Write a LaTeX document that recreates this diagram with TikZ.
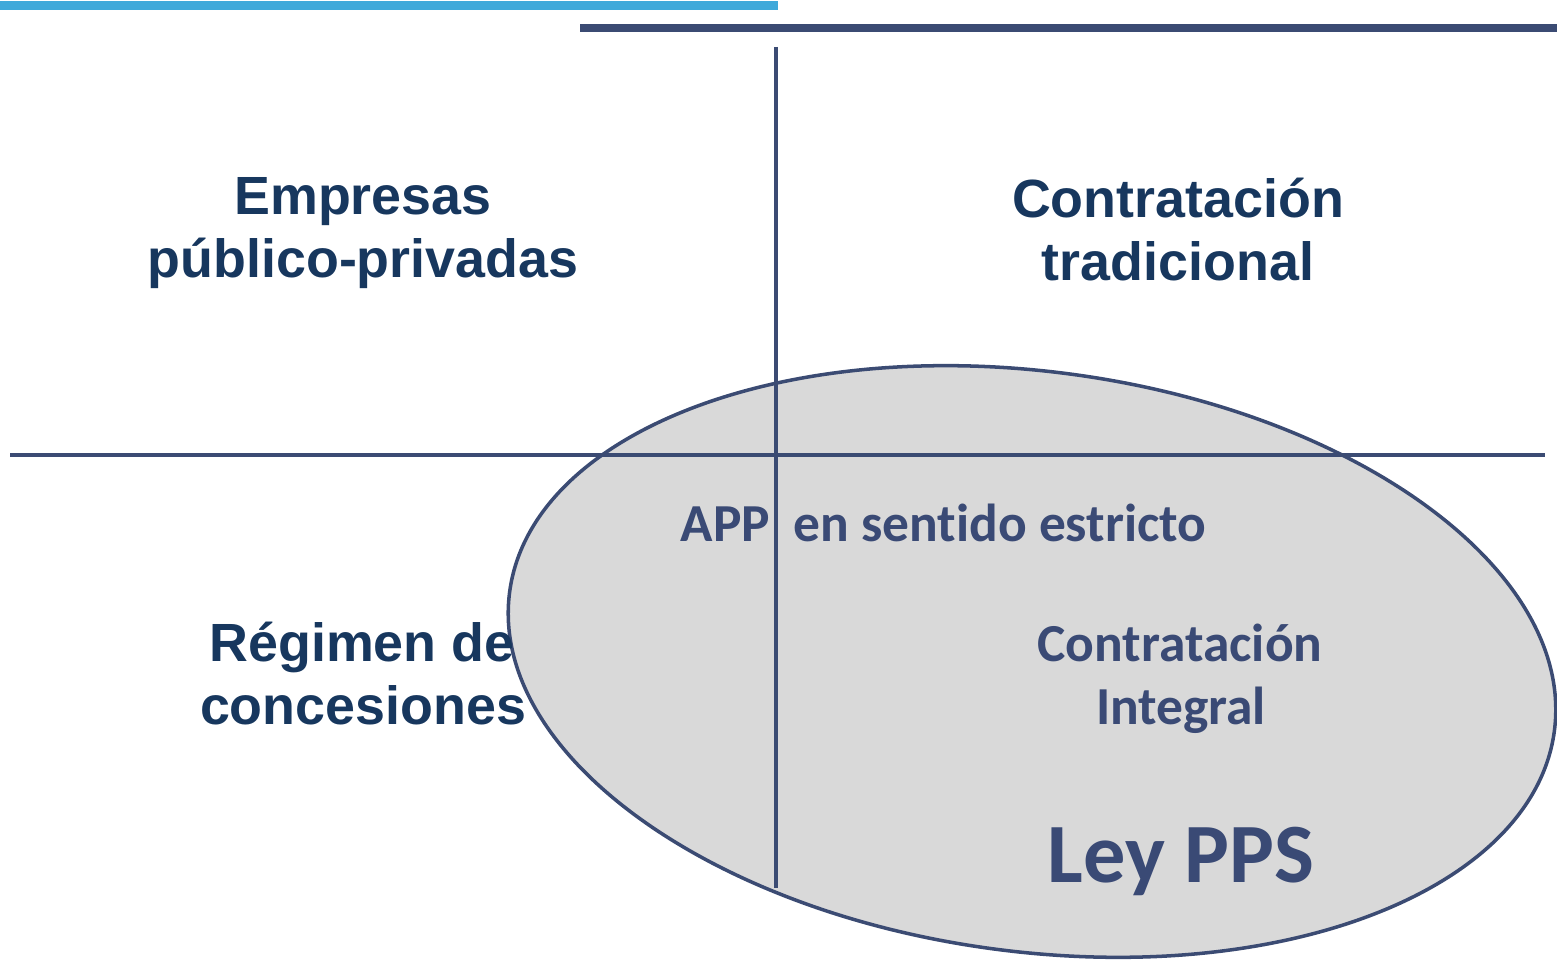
\documentclass[tikz,border=0pt]{standalone}
\usepackage{fontspec}
\setmainfont{Liberation Sans}
\newfontfamily\calib{Carlito}[Ligatures={NoCommon}]
\definecolor{navy}{HTML}{17375E}
\definecolor{slate}{HTML}{3A4A75}
\definecolor{linec}{HTML}{3B4B73}
\definecolor{skyb}{HTML}{3FA9DA}
\definecolor{ellf}{HTML}{D9D9D9}
\tikzset{
  outer/.style={inner sep=0pt, anchor=base, text=navy, font=\fontsize{15.3}{18}\selectfont\bfseries},
  inner/.style={inner sep=0pt, anchor=base, text=slate, font=\calib\fontsize{15.2}{18}\selectfont\bfseries},
  big/.style={inner sep=0pt, anchor=base, text=slate, font=\calib\fontsize{24}{28}\selectfont\bfseries},
  axis/.style={draw=linec, line width=1pt},
  bar/.style={line width=2.3pt},
}
\begin{document}
\begin{tikzpicture}[x=0.01cm, y=-0.01cm]
\useasboundingbox (0,0) rectangle (1557,967);
% ellipse
\path[fill=ellf, draw=linec, line width=1pt, rotate around={-7.6:(1032,661.5)}]
  (1032,661.5) ellipse [x radius=527, y radius=290];
% top bars
\coordinate (b1s) at (0,5.5);
\coordinate (b1e) at (778,5.5);
\coordinate (b2s) at (580,28);
\coordinate (b2e) at (1557,28);
\draw[bar, draw=skyb] (b1s) -- (b1e);
\draw[bar, draw=linec] (b2s) -- (b2e);
% axes
\coordinate (vt) at (776,47);
\coordinate (vb) at (776,888);
\coordinate (hl) at (10,455);
\coordinate (hr) at (1545,455);
\draw[axis] (vt) -- (vb);
\draw[axis] (hl) -- (hr);
% quadrant labels
\node[outer] (emp1) at (363,215) {Empresas};
\node[outer] (emp2) at (363,278) {público-privadas};
\node[outer] (con1) at (1178,218) {Contratación};
\node[outer] (con2) at (1178,281) {tradicional};
\node[outer] (reg1) at (362,662) {Régimen de};
\node[outer] (reg2) at (363,725) {concesiones};
% ellipse labels
\node[inner, anchor=base west] (app) at (680,542) {APP};
\node[inner, anchor=base west] (sent) at (793,542) {en sentido estricto};
\node[inner] (ci1) at (1180,662) {Contratación};
\node[inner] (ci2) at (1181,725) {Integral};
\node[big] (ley) at (1181,882) {Ley PPS};
\end{tikzpicture}
\end{document}
